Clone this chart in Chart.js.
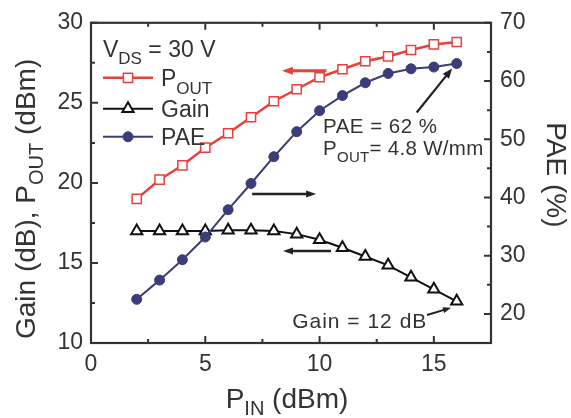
<!DOCTYPE html>
<html>
<head>
<meta charset="utf-8">
<script src="https://cdn.jsdelivr.net/npm/chart.js@4.4.0/dist/chart.umd.min.js"></script>
<style>
  html, body { margin: 0; padding: 0; background: #fff; }
  #wrap { width: 571px; height: 418px; position: relative; }
</style>
</head>
<body>
<div id="wrap"><canvas id="c" width="571" height="418"></canvas></div>
<script>
// ---- data ----
const pinValues  = [2, 3, 4, 5, 6, 7, 8, 9, 10, 11, 12, 13, 14, 15, 16];
const poutValues = [19.0, 20.2, 21.1, 22.2, 23.1, 24.1, 25.1, 25.85, 26.6, 27.1, 27.6, 27.9, 28.3, 28.65, 28.8];
const gainValues = [17.0, 17.0, 17.0, 17.0, 17.05, 17.05, 17.0, 16.8, 16.45, 15.95, 15.4, 14.85, 14.1, 13.35, 12.6];
const paeValues  = [22.5, 25.8, 29.3, 33.2, 37.9, 42.4, 47.0, 51.3, 54.9, 57.5, 59.7, 61.3, 62.1, 62.4, 63.0];

const xTicks      = [0, 5, 10, 15];
const xMinorTicks = [2.5, 7.5, 12.5];
const yLeftTicks  = [10, 15, 20, 25, 30];
const yLeftMinor  = [12.5, 17.5, 22.5, 27.5];
const yRightTicks = [20, 30, 40, 50, 60, 70];
const yRightMinor = [15, 25, 35, 45, 55, 65];

const FONT = "'Liberation Sans', Arial, Helvetica, sans-serif";
const TXT = '#333333';
const RED = '#e8413d';
const NAVY = '#3b3d78';
const BLK = '#111111';

function pts(ys) { return pinValues.map((x, i) => ({ x: x, y: ys[i] })); }

function f(size) { return size + 'px ' + FONT; }

function drawRich(ctx, parts, x, y, size, subSize, subDy, align, spacing) {
  ctx.letterSpacing = (spacing || 0) + 'px';
  let w = 0;
  parts.forEach(p => { ctx.font = f(p[1] ? subSize : size); w += ctx.measureText(p[0]).width; });
  let cx = align === 'center' ? x - w / 2 : (align === 'right' ? x - w : x);
  ctx.textAlign = 'left';
  ctx.textBaseline = 'alphabetic';
  parts.forEach(p => {
    ctx.font = f(p[1] ? subSize : size);
    ctx.fillText(p[0], cx, y + (p[1] ? subDy : 0));
    cx += ctx.measureText(p[0]).width;
  });
  ctx.letterSpacing = '0px';
}

function arrow(ctx, x1, y1, x2, y2, color, lw, hl, hw) {
  const a = Math.atan2(y2 - y1, x2 - x1);
  ctx.save();
  ctx.strokeStyle = color; ctx.fillStyle = color; ctx.lineWidth = lw;
  ctx.beginPath();
  ctx.moveTo(x1, y1);
  ctx.lineTo(x2 - Math.cos(a) * hl * 0.8, y2 - Math.sin(a) * hl * 0.8);
  ctx.stroke();
  ctx.beginPath();
  ctx.moveTo(x2, y2);
  ctx.lineTo(x2 - Math.cos(a) * hl - Math.sin(a) * hw / 2, y2 - Math.sin(a) * hl + Math.cos(a) * hw / 2);
  ctx.lineTo(x2 - Math.cos(a) * hl + Math.sin(a) * hw / 2, y2 - Math.sin(a) * hl - Math.cos(a) * hw / 2);
  ctx.closePath();
  ctx.fill();
  ctx.restore();
}

const decor = {
  id: 'decor',
  afterDraw(chart) {
    const ctx = chart.ctx;
    const a = chart.chartArea;
    const sx = chart.scales.x, sy = chart.scales.y, sr = chart.scales.y1;
    ctx.save();
    // frame
    ctx.strokeStyle = '#333'; ctx.lineWidth = 2.2;
    ctx.strokeRect(a.left, a.top, a.right - a.left, a.bottom - a.top);
    // inward ticks
    ctx.lineWidth = 2;
    ctx.beginPath();
    const tickX = (v, len) => { const p = sx.getPixelForValue(v);
      ctx.moveTo(p, a.bottom); ctx.lineTo(p, a.bottom - len);
      ctx.moveTo(p, a.top); ctx.lineTo(p, a.top + len); };
    xTicks.forEach(v => tickX(v, 7));
    xMinorTicks.forEach(v => tickX(v, 4));
    const tickL = (v, len) => { const p = sy.getPixelForValue(v);
      ctx.moveTo(a.left, p); ctx.lineTo(a.left + len, p); };
    yLeftTicks.forEach(v => tickL(v, 7));
    yLeftMinor.forEach(v => tickL(v, 4));
    const tickR = (v, len) => { const p = sr.getPixelForValue(v);
      ctx.moveTo(a.right, p); ctx.lineTo(a.right - len, p); };
    yRightTicks.forEach(v => tickR(v, 7));
    yRightMinor.forEach(v => tickR(v, 4));
    ctx.stroke();

    // axis titles
    ctx.fillStyle = TXT;
    const midY = (a.top + a.bottom) / 2;
    ctx.save();
    ctx.translate(a.left - 56, midY + 16);
    ctx.rotate(-Math.PI / 2);
    drawRich(ctx, [['Gain (dB), P', false], ['OUT', true], [' (dBm)', false]], 0, 0, 28, 20, 8, 'center');
    ctx.restore();
    ctx.save();
    ctx.translate(a.right + 56, midY - 8);
    ctx.rotate(Math.PI / 2);
    drawRich(ctx, [['PAE (%)', false]], 0, 0, 28, 20, 7, 'center');
    ctx.restore();
    drawRich(ctx, [['P', false], ['IN', true], [' (dBm)', false]], (a.left + a.right) / 2 - 4, a.bottom + 65, 28, 20, 7, 'center');

    // legend
    const lx = a.left + 12;
    drawRich(ctx, [['V', false], ['DS', true], [' = 30 V', false]], lx, a.top + 34, 23, 17, 7, 'left');
    const rows = [
      { y: a.top + 55, color: RED, style: 'rect', r: 6.5, bg: '#fff', bw: 1.5, lw: 2.5, parts: [['P', false], ['OUT', true]] },
      { y: a.top + 86, color: BLK, style: 'triangle', r: 6.5, bg: '#fff', bw: 2, lw: 2, parts: [['Gain', false]] },
      { y: a.top + 114, color: NAVY, style: 'circle', r: 5, bg: NAVY, bw: 1, lw: 2, parts: [['PAE', false]] }
    ];
    rows.forEach(r => {
      ctx.strokeStyle = r.color; ctx.lineWidth = r.lw;
      ctx.beginPath(); ctx.moveTo(lx, r.y); ctx.lineTo(lx + 50, r.y); ctx.stroke();
      ctx.fillStyle = r.bg; ctx.strokeStyle = r.color; ctx.lineWidth = r.bw;
      Chart.helpers.drawPoint(ctx, { pointStyle: r.style, radius: r.r, rotation: 0, borderWidth: r.bw }, lx + 25, r.y);
      ctx.fillStyle = TXT;
      drawRich(ctx, r.parts, lx + 58, r.y + 8, 23, 17, 8, 'left');
    });

    // annotations (data coordinates)
    const X = v => sx.getPixelForValue(v), L = v => sy.getPixelForValue(v);
    arrow(ctx, X(10.3), L(27.0), X(8.35), L(27.0), RED, 3, 11, 8);
    arrow(ctx, X(7.05), L(19.3), X(9.85), L(19.3), '#222', 2.5, 10, 7);
    arrow(ctx, X(10.5), L(15.75), X(8.4), L(15.75), '#222', 2.5, 10, 7);
    arrow(ctx, X(14.25), L(24.4), X(15.8), L(27.15), '#222', 2.2, 10, 8);
    arrow(ctx, X(14.7), L(11.75), X(15.75), L(12.2), '#222', 2, 8, 6);
    ctx.fillStyle = TXT;
    drawRich(ctx, [['PAE = 62 %', false]], X(10.15), L(23.1), 20.5, 15, 6, 'left', 0.5);
    drawRich(ctx, [['P', false], ['OUT', true], ['= 4.8 W/mm', false]], X(10.15), L(21.72), 20.5, 15, 7, 'left', 0.3);
    drawRich(ctx, [['Gain = 12 dB', false]], X(8.8), L(10.95), 21, 15, 6, 'left', 1);
    ctx.restore();
  }
};

const tickFont = { family: FONT, size: 23 };

new Chart(document.getElementById('c'), {
  type: 'line',
  data: {
    datasets: [
      { label: 'POUT', data: pts(poutValues), yAxisID: 'y', order: 3,
        borderColor: RED, borderWidth: 2.5, pointStyle: 'rect', pointRadius: 6.5,
        pointBackgroundColor: '#fff', pointBorderColor: RED, pointBorderWidth: 1.5 },
      { label: 'Gain', data: pts(gainValues), yAxisID: 'y', order: 2,
        borderColor: BLK, borderWidth: 2, pointStyle: 'triangle', pointRadius: 6.5,
        pointBackgroundColor: '#fff', pointBorderColor: BLK, pointBorderWidth: 2 },
      { label: 'PAE', data: pts(paeValues), yAxisID: 'y1', order: 1,
        borderColor: NAVY, borderWidth: 2, pointStyle: 'circle', pointRadius: 5,
        pointBackgroundColor: NAVY, pointBorderColor: NAVY, pointBorderWidth: 1 }
    ]
  },
  options: {
    responsive: false,
    animation: false,
    devicePixelRatio: 1,
    layout: { padding: { top: 22, left: 0, right: 0, bottom: 0 } },
    plugins: { legend: { display: false }, tooltip: { enabled: false } },
    scales: {
      x: {
        type: 'linear', position: 'bottom', min: 0, max: 17.5,
        grid: { display: false, drawTicks: false },
        border: { display: false },
        ticks: { font: tickFont, color: TXT, padding: 8, maxRotation: 0, includeBounds: false },
        afterBuildTicks: s => { s.ticks = xTicks.map(v => ({ value: v })); },
        afterFit: s => { s.height = 75; }
      },
      y: {
        type: 'linear', position: 'left', min: 10, max: 30,
        grid: { display: false, drawTicks: false },
        border: { display: false },
        ticks: { font: tickFont, color: TXT, padding: 8 },
        afterBuildTicks: s => { s.ticks = yLeftTicks.map(v => ({ value: v })); },
        afterFit: s => { s.width = 91; }
      },
      y1: {
        type: 'linear', position: 'right', min: 15, max: 70,
        grid: { display: false, drawTicks: false },
        border: { display: false },
        ticks: { font: tickFont, color: TXT, padding: 9 },
        afterBuildTicks: s => { s.ticks = yRightTicks.map(v => ({ value: v })); },
        afterFit: s => { s.width = 80; }
      }
    }
  },
  plugins: [decor]
});
</script>
</body>
</html>
